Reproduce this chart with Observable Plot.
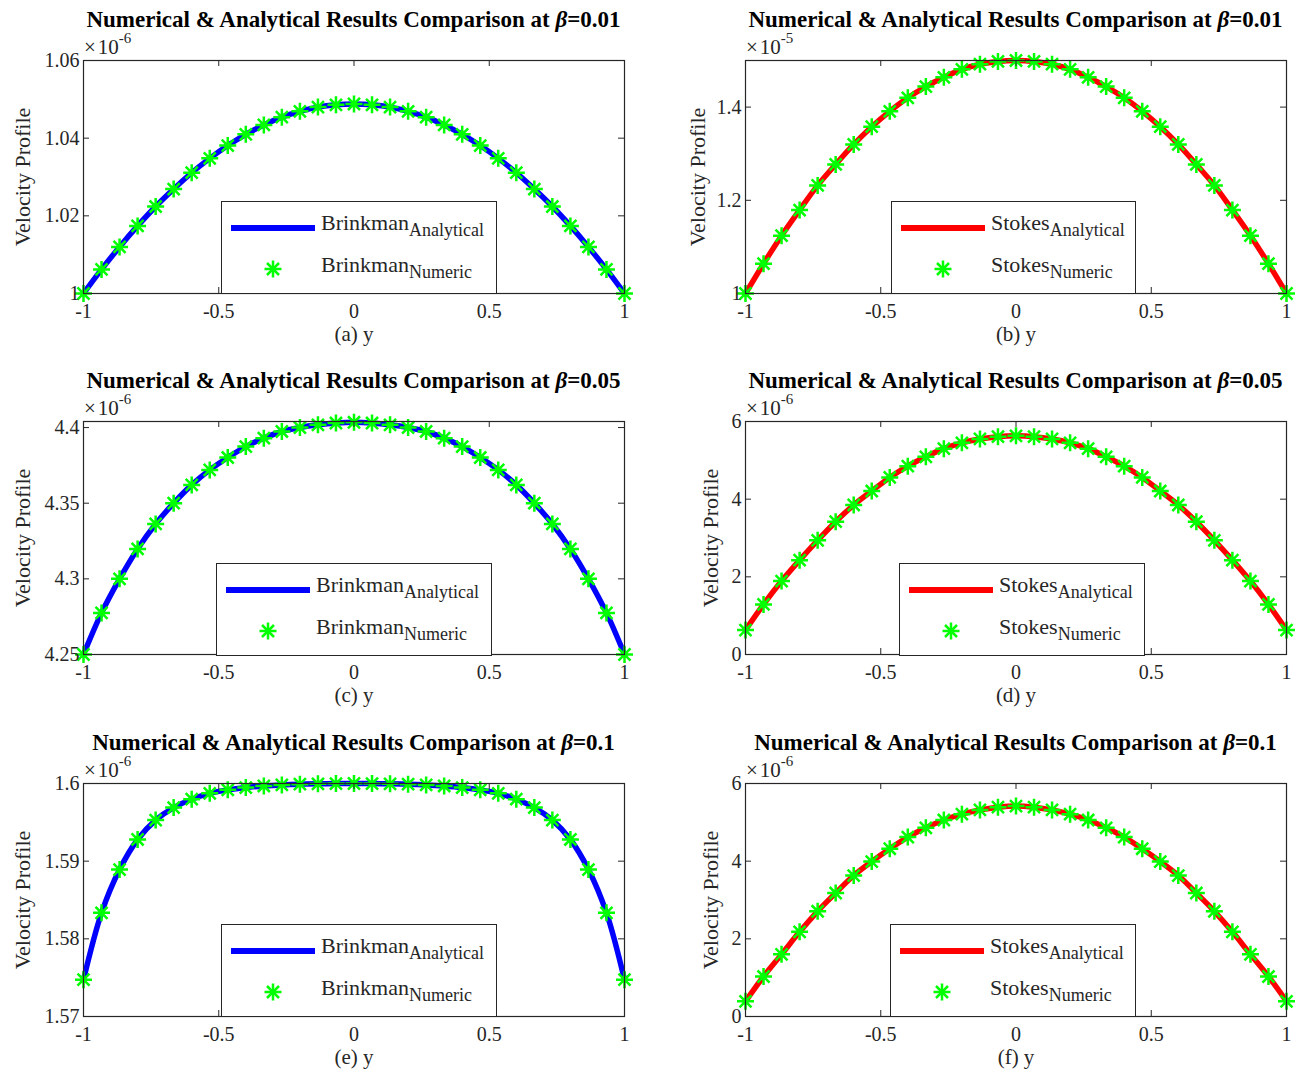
<!DOCTYPE html>
<html>
<head>
<meta charset="utf-8">
<script src="https://cdn.jsdelivr.net/npm/d3@7"></script>
<script src="https://cdn.jsdelivr.net/npm/@observablehq/plot@0.6"></script>
<style>
  html, body { margin: 0; padding: 0; background: #fff; }
  #root { position: relative; width: 1304px; height: 1077px; font-family: "Liberation Serif", serif; color: #262626; overflow: hidden; }
  .plotbox { position: absolute; }
  .title { position: absolute; font-weight: bold; font-size: 23px; white-space: nowrap; transform: translate(-50%, -50%); color: #000; line-height: 1; }
  .expo { position: absolute; font-size: 21px; white-space: nowrap; transform: translateY(-50%); color: #262626; line-height: 1; }
  .expo .times { margin-right: 2px; }
  .expo sup { font-size: 15px; position: relative; top: -3px; }
  .legend { position: absolute; border: 1.4px solid #262626; background: #fff; box-sizing: border-box; }
  .legend .item { position: absolute; white-space: nowrap; font-size: 22px; line-height: 1; color: #262626; }
  .legend .item sub { font-size: 18px; position: relative; top: 6px; vertical-align: baseline; }
</style>
</head>
<body>
<div id="root"></div>
<script>
// ---------------- data ----------------
// y positions of the 31 computed points
const yGrid = [-1, -0.9333, -0.8667, -0.8, -0.7333, -0.6667, -0.6, -0.5333, -0.4667, -0.4, -0.3333, -0.2667, -0.2, -0.1333, -0.0667, 0,
               0.0667, 0.1333, 0.2, 0.2667, 0.3333, 0.4, 0.4667, 0.5333, 0.6, 0.6667, 0.7333, 0.8, 0.8667, 0.9333, 1];
const xTicks = [-1, -0.5, 0, 0.5, 1];

// (a) Brinkman, beta = 0.01   (x 1e-6)
const brinkman001 = [1.0000, 1.0062, 1.0120, 1.0174, 1.0224, 1.0269, 1.0311, 1.0348, 1.0381, 1.0410, 1.0434, 1.0454, 1.0469, 1.0480, 1.0486, 1.0488,
                     1.0486, 1.0480, 1.0469, 1.0454, 1.0434, 1.0410, 1.0381, 1.0348, 1.0311, 1.0269, 1.0224, 1.0174, 1.0120, 1.0062, 1.0000];
// (b) Stokes, beta = 0.01   (x 1e-5)
const stokes001 = [1.000, 1.064, 1.124, 1.179, 1.232, 1.277, 1.320, 1.358, 1.391, 1.420, 1.444, 1.464, 1.481, 1.492, 1.498, 1.500,
                   1.498, 1.492, 1.481, 1.464, 1.444, 1.420, 1.391, 1.358, 1.320, 1.277, 1.232, 1.179, 1.124, 1.064, 1.000];
// (c) Brinkman, beta = 0.05   (x 1e-6)
const brinkman005 = [4.2500, 4.2775, 4.3000, 4.3198, 4.3363, 4.3500, 4.3621, 4.3720, 4.3802, 4.3874, 4.3930, 4.3974, 4.4000, 4.4018, 4.4030, 4.4035,
                     4.4030, 4.4018, 4.4000, 4.3974, 4.3930, 4.3874, 4.3802, 4.3720, 4.3621, 4.3500, 4.3363, 4.3198, 4.3000, 4.2775, 4.2500];
// (d) Stokes, beta = 0.05   (x 1e-6)
const stokes005 = [0.63, 1.29, 1.89, 2.43, 2.94, 3.42, 3.85, 4.21, 4.56, 4.85, 5.09, 5.30, 5.45, 5.55, 5.61, 5.63,
                   5.61, 5.55, 5.45, 5.30, 5.09, 4.85, 4.56, 4.21, 3.85, 3.42, 2.94, 2.43, 1.89, 1.29, 0.63];
// (e) Brinkman, beta = 0.1   (x 1e-6)
const brinkman01 = [1.57474, 1.58335, 1.58892, 1.59279, 1.59529, 1.59690, 1.59798, 1.59873, 1.59918, 1.59948, 1.59968, 1.59982, 1.59991, 1.59996, 1.59999, 1.60000,
                    1.59999, 1.59996, 1.59991, 1.59982, 1.59968, 1.59948, 1.59918, 1.59873, 1.59798, 1.59690, 1.59529, 1.59279, 1.58892, 1.58335, 1.57474];
// (f) Stokes, beta = 0.1   (x 1e-6)
const stokes01 = [0.39, 1.03, 1.60, 2.18, 2.71, 3.18, 3.63, 3.99, 4.32, 4.62, 4.86, 5.06, 5.21, 5.32, 5.39, 5.42,
                  5.39, 5.32, 5.21, 5.06, 4.86, 4.62, 4.32, 3.99, 3.63, 3.18, 2.71, 2.18, 1.60, 1.03, 0.39];

const yTicksA = [1, 1.02, 1.04, 1.06];
const yTicksB = [1, 1.2, 1.4];
const yTicksC = [4.25, 4.3, 4.35, 4.4];
const yTicksD = [0, 2, 4, 6];
const yTicksE = [1.57, 1.58, 1.59, 1.6];
const yTicksF = [0, 2, 4, 6];

const titles = ["0.01", "0.01", "0.05", "0.05", "0.1", "0.1"];
const exponents = ["-6", "-5", "-6", "-6", "-6", "-6"];
const xLabels = ["(a) y", "(b) y", "(c) y", "(d) y", "(e) y", "(f) y"];
const models = ["Brinkman", "Stokes", "Brinkman", "Stokes", "Brinkman", "Stokes"];

// ---------------- layout ----------------
const panels = [
  {left: 0,   top: 0,   width: 650, ml: 83, mr: 26, values: brinkman001, domain: [1, 1.06],     ticks: yTicksA, color: "#0000ff", ylabDx: -61, leg: [221, 201, 276]},
  {left: 650, top: 0,   width: 654, ml: 95, mr: 18, values: stokes001,   domain: [1, 1.5],      ticks: yTicksB, color: "#ff0000", ylabDx: -48, leg: [891, 201, 245]},
  {left: 0,   top: 361, width: 650, ml: 83, mr: 26, values: brinkman005, domain: [4.25, 4.404], ticks: yTicksC, color: "#0000ff", ylabDx: -61, leg: [216, 563, 276]},
  {left: 650, top: 361, width: 654, ml: 95, mr: 18, values: stokes005,   domain: [0, 6],        ticks: yTicksD, color: "#ff0000", ylabDx: -35, leg: [899, 563, 246]},
  {left: 0,   top: 723, width: 650, ml: 83, mr: 26, values: brinkman01,  domain: [1.57, 1.6],   ticks: yTicksE, color: "#0000ff", ylabDx: -61, leg: [221, 924, 276]},
  {left: 650, top: 723, width: 654, ml: 95, mr: 18, values: stokes01,    domain: [0, 6],        ticks: yTicksF, color: "#ff0000", ylabDx: -35, leg: [890, 924, 246]}
];
const H = 360, MT = 60, MB = 67;

// MATLAB-style 8-armed asterisk marker
const star8 = {
  draw(ctx, size) {
    const r = Math.sqrt(size / Math.PI), d = r * Math.SQRT1_2;
    ctx.moveTo(0, -r); ctx.lineTo(0, r);
    ctx.moveTo(-r, 0); ctx.lineTo(r, 0);
    ctx.moveTo(-d, -d); ctx.lineTo(d, d);
    ctx.moveTo(-d, d); ctx.lineTo(d, -d);
  }
};

const root = document.getElementById("root");

panels.forEach((p, i) => {
  const fh = H - MT - MB;
  const fw = p.width - p.ml - p.mr;
  const pts = yGrid.map((y, j) => ({y, v: p.values[j]}));
  const chart = Plot.plot({
    width: p.width, height: H,
    marginLeft: p.ml, marginRight: p.mr, marginTop: MT, marginBottom: MB,
    x: {domain: [-1, 1]},
    y: {domain: p.domain},
    style: {fontFamily: '"Liberation Serif", serif', fontSize: "18px", color: "#262626", background: "transparent", overflow: "visible"},
    marks: [
      Plot.line(pts, {x: "y", y: "v", stroke: p.color, strokeWidth: 5.5, curve: "catmull-rom"}),
      Plot.dot(pts, {x: "y", y: "v", symbol: star8, r: 8.5, fill: "none", stroke: "#00ff00", strokeWidth: 2.5}),
      Plot.frame({stroke: "#262626", strokeWidth: 1.2}),
      Plot.tickX(xTicks, {insetBottom: fh - 6, stroke: "#262626"}),
      Plot.tickX(xTicks, {insetTop: fh - 6, stroke: "#262626"}),
      Plot.tickY(p.ticks, {insetRight: fw - 6, stroke: "#262626"}),
      Plot.tickY(p.ticks, {insetLeft: fw - 6, stroke: "#262626"}),
      Plot.axisX({ticks: xTicks, tickSize: 0, tickPadding: 10, tickFormat: d => String(d), label: null, fontSize: 20, fill: "#262626"}),
      Plot.axisY({ticks: p.ticks, tickSize: 0, tickPadding: 4, tickFormat: d => String(d), label: null, fontSize: 20, fill: "#262626"}),
      Plot.text([xLabels[i]], {frameAnchor: "bottom", dy: 47, fontSize: 21, fill: "#262626"}),
      Plot.text(["Velocity Profile"], {frameAnchor: "left", dx: p.ylabDx, rotate: -90, textAnchor: "middle", fontSize: 22, fill: "#262626"})
    ]
  });
  const box = document.createElement("div");
  box.className = "plotbox";
  box.style.left = p.left + "px";
  box.style.top = p.top + "px";
  box.appendChild(chart);
  root.appendChild(box);

  // title
  const t = document.createElement("div");
  t.className = "title";
  t.style.left = (p.left + p.ml + fw / 2) + "px";
  t.style.top = (p.top + MT - 41) + "px";
  t.innerHTML = "Numerical &amp; Analytical Results Comparison at <i>β</i>=" + titles[i];
  root.appendChild(t);

  // exponent
  const e = document.createElement("div");
  e.className = "expo";
  e.style.left = (p.left + p.ml + 1) + "px";
  e.style.top = (p.top + MT - 14) + "px";
  e.innerHTML = "<span class='times'>×</span>10<sup>" + exponents[i] + "</sup>";
  root.appendChild(e);

  // legend
  const [lx, ly, lw] = p.leg;
  const lg = document.createElement("div");
  lg.className = "legend";
  lg.style.left = lx + "px";
  lg.style.top = ly + "px";
  lg.style.width = lw + "px";
  lg.style.height = "93px";
  lg.innerHTML =
    `<svg width="${lw}" height="93" style="position:absolute;left:0;top:0">
       <line x1="9" x2="93" y1="26" y2="26" stroke="${p.color}" stroke-width="6"/>
       <g transform="translate(51,67)" stroke="#00ff00" stroke-width="2.5">
         <line x1="0" y1="-8.5" x2="0" y2="8.5"/><line x1="-8.5" y1="0" x2="8.5" y2="0"/>
         <line x1="-6" y1="-6" x2="6" y2="6"/><line x1="-6" y1="6" x2="6" y2="-6"/>
       </g>
     </svg>
     <div class="item" style="left:99px;top:10px">${models[i]}<sub>Analytical</sub></div>
     <div class="item" style="left:99px;top:52px">${models[i]}<sub>Numeric</sub></div>`;
  root.appendChild(lg);
});
</script>
</body>
</html>
